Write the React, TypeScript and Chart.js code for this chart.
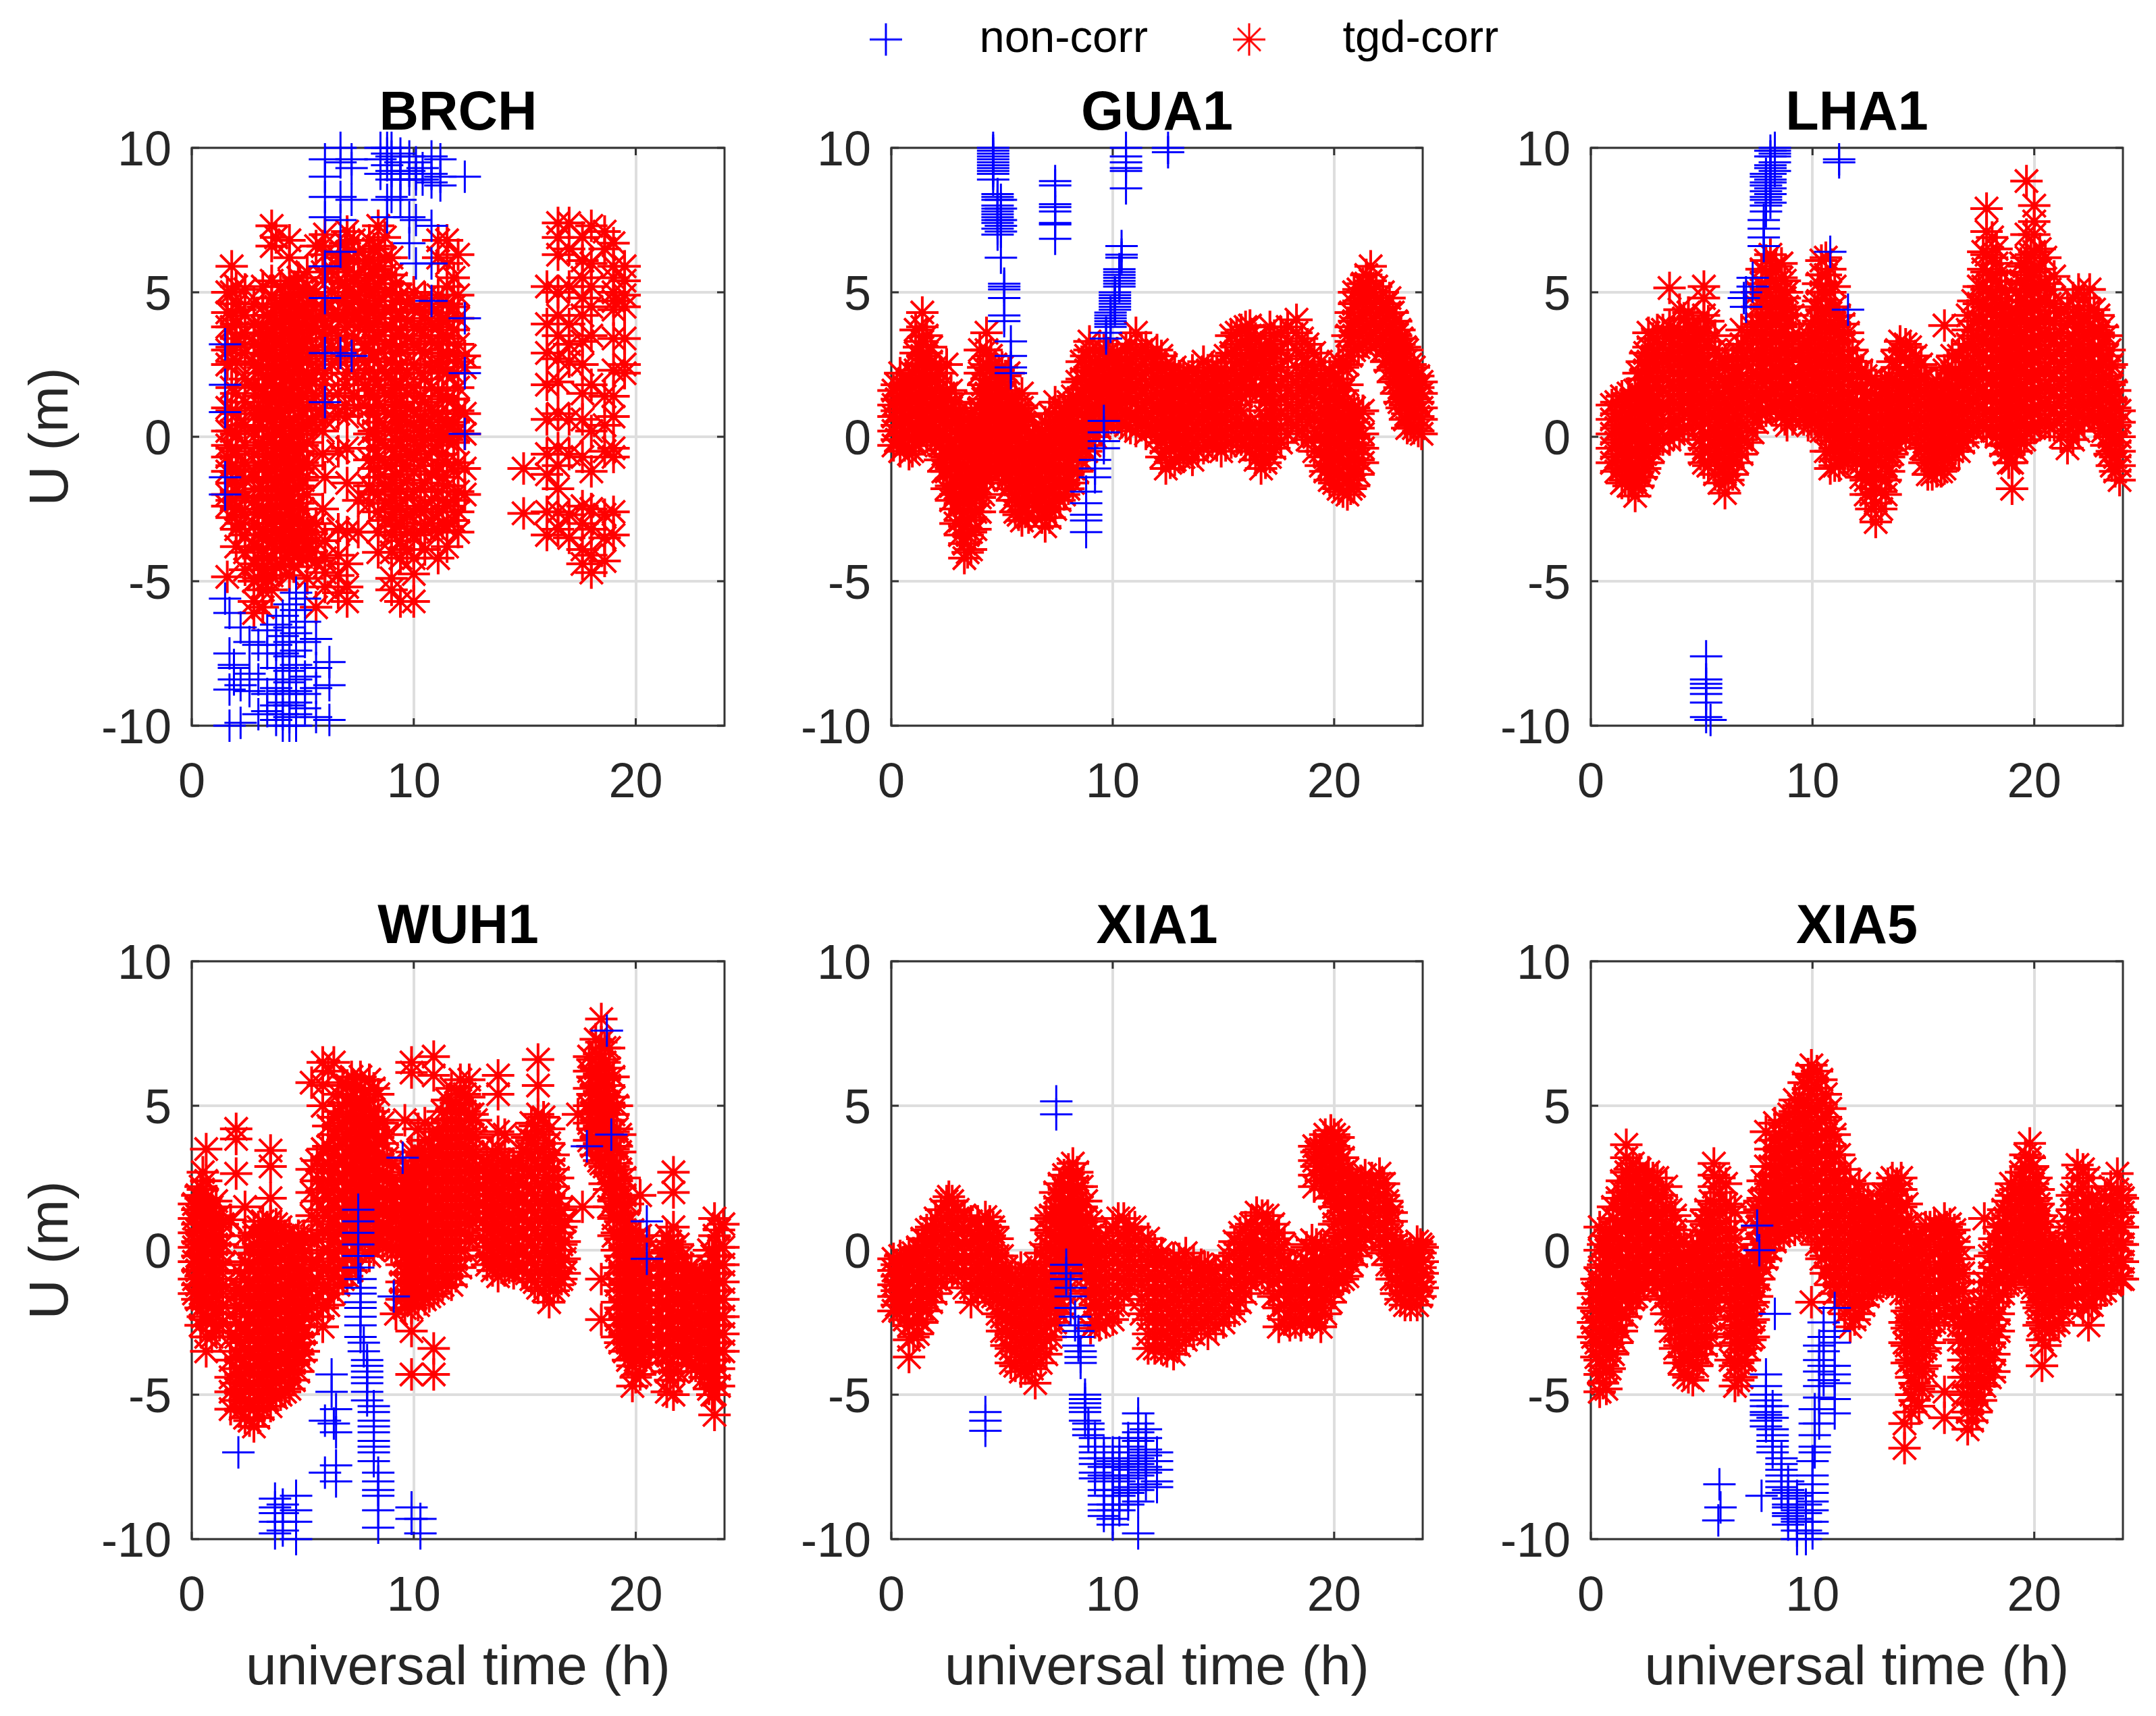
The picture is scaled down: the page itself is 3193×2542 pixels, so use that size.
import React, { useEffect, useRef } from "react";
import { Chart, registerables } from "chart.js";
import { drawPoint } from "chart.js/helpers";

Chart.register(...registerables);

type Row = number[];

const stations = ["BRCH", "GUA1", "LHA1", "WUH1", "XIA1", "XIA5"];
const seriesNames = ["non-corr", "tgd-corr"];
const xTickStep = 10;
const yTickStep = 5;

// Every row: hour, then the U values read at that hour.
const brchBlue: Row[] = [
[1.5,3.2,1.8,0.85,-1.4,-2,-5.6],[1.7,-6.1,-7.5,-8.75,-10],[1.9,-8,-8.4,-7.9],[2.2,-9.9,-8.6,-6.6],[2.6,-8.2,-8.8,-7.1],[3,-7.2,-8.4,-9.6],
[3.4,-6.7,-7.5,-8.9,-9.5],[3.8,-6.5,-7.2,-8,-8.7,-9.3,-9.8],[4.1,-6.2,-6.9,-7.5,-8,-8.4,-8.8,-9.2,-9.6,-10],[4.4,-5.8,-6.6,-7.1,-7.6,-8.1,-8.5,-8.9,-9.3,-9.7,-10],
[4.7,-5.4,-6,-6.8,-7.4,-7.9,-8.4,-8.8,-9.2,-9.6,-10],[5.1,-5.6,-6.4,-7.1,-8.3,-8.9,-9.4],[5.6,-7,-8,-8.7,-9.7],[6.2,-7.8,-8.6,-9.8],[6,9.6,9,8.3,7.6,5.9,4.8,2.9,1.2],[6.7,10,9.5,8.3,7.5,6.4,2.9],
[7.2,9.6,9.3,8.2,2.8],[8.5,10,9.6,9.1],[8.8,10,9.8,9.4,8.2,7.6],[9,10,9.7,9.2,8.9,8.3],[9.4,9.8,9.5,9.1,8.9,8.2],[9.8,9.7,9.2,8.9,7.6,6.7],[10.1,9.5,9.1,8.9,7.5,6],[10.4,9.3,8.9],
[10.8,9.7,9.1,8.8,7.3,6,4.7],[11.2,9.6,9,8.7],[12.3,9,4.1,2.2,0.1]
];
const brchRed: Row[] = [
[1.6,-4.85,-2.4,-2,-1.2,-0.7,-0.3,0.2,1,2.5,3,3.8,4.3,5],
[1.8,5.9,5,4.3,3.8,3.1,2.6,1.7,0.9,0.2,-0.4,-1,-1.6,-2.2,-2.8],
[2,5.2,4.6,3.9,3.4,2.6,1.5,0.8,0.1,-0.5,-1.2,-1.9,-2.5,-3.2,-3.8],
[2.4,5.1,4.2,3.6,2.9,2,1.2,0.4,-0.3,-0.9,-1.5,-2.1,-2.7,-3.4,-4,-4.6],
[2.8,4.6,3.9,3.2,2.5,1.8,1,0.2,-0.6,-1.4,-2.2,-3,-3.8,-4.4,-5,-5.7,-6.1],
[3.2,5.2,4.5,3.8,3.1,2.4,1.7,1,0.3,-0.4,-1.1,-1.8,-2.5,-3.2,-3.9,-4.6,-5.3,-5.9],
[3.6,7.3,6.6,5.4,4.8,4.2,3.6,3,2.4,1.8,1.2,0.6,0,-0.6,-1.2,-1.8,-2.4,-3,-3.6,-4.2,-4.8,-5.3],
[4,5.2,4.6,4,3.4,2.8,2.3,1.7,1.2,0.7,0.1,-0.4,-0.9,-1.4,-1.9,-2.4,-2.9,-3.4,-3.9,-4.4],
[4.4,6.8,6.2,5.4,4.7,4.1,3.6,3,2.5,2,1.5,1,0.5,0,-0.5,-1,-1.5,-2,-2.5,-3,-3.5,-4,-4.8],
[4.8,5.5,4.9,4.3,3.7,3.1,2.5,1.9,1.3,0.7,0.1,-0.5,-1.1,-1.7,-2.3,-2.9,-3.5,-4.1],
[5.2,5.7,5,4.2,3.4,2.6,1.8,1,0.4,-0.2,-1,-2,-3,-3.6,-4.2,-4.9],
[5.6,6.6,5,4.1,3,2.3,1.4,0.7,-3,-3.6,-4.3,-5.9],
[6,7,6.3,5.5,4.8,4,3.4,2.2,1.4,0.6,-1.4,-3.6,-4.2,-4.7,-5.2],
[6.6,6.2,5.4,4.8,4.2,3.5,2.7,1.5,0.8,-0.5,-3.2,-4.1,-4.8,-5.4],
[7,7.1,6.4,5.7,5,4.4,3.8,2.2,0.7,-0.4,-1.6,-3.3,-4.4,-5.2,-5.7],
[7.5,6.4,5.6,4.9,4.3,3.8,2,1,-2.2,-3.3],
[8,6.8,6.1,5.5,4.9,4.3,3.7,3,2.3,1.6,1,0.1,-0.8,-1.7,-2.3],
[8.4,7.3,6.6,5.9,5.3,4.7,4.1,3.5,2.6,1.8,1.1,0.5,-0.1,-0.7,-1.4,-2,-2.6,-3.3,-4],
[9,6.2,5.6,5,4.4,3.8,3.2,2.6,2,1.4,0.8,0.2,-0.4,-1,-1.6,-2.2,-2.8,-3.4,-4,-4.9,-5.3],
[9.4,4.9,4.3,3.7,3.1,2.5,1.8,1.2,0.7,0.2,-0.3,-0.8,-1.3,-1.8,-2.4,-3,-3.6,-4.2,-5.7],
[10,5,4.4,3.8,3.2,2.5,1.7,0.9,0.4,-0.1,-0.6,-1.2,-1.9,-2.6,-3.4,-4.2,-4.75,-5.7],
[10.5,4.8,4.1,3.5,2.9,2,1.2,0.5,-0.1,-0.8,-1.6,-2.5,-3.2,-3.9],
[11.1,6.8,6.2,4.9,4.3,3.8,3.2,2.6,1.6,0.8,0.2,-0.3,-1,-1.9,-2.6,-3.3,-4.2],
[11.5,6.8,6,5.2,4.6,4,3.4,2.8,2.2,1.3,0.4,-0.1,-0.9,-1.7,-2.4,-3.1,-3.8],
[12,6.3,4.9,4.1,3.2,2.6,1.7,0.9,0.2,-0.9,-1.9,-2.6,-3.3],
[12.3,2.8,2.4,0.8,0.1,-1.1,-2],
[14.95,-1.1,-2.65],
[16,5.2,3.9,2.9,1.8,0.6,-0.6,-1.3,-2.6,-3.4],
[16.5,7.4,6.9,6.3,5,4.2,3.5,2.7,1.9,0.8,-0.4,-1,-1.8,-2.6,-3.2],
[17,7.4,6.5,5.2,3.9,3.2,2.6,0.6,-0.6,-2.7,-3.5],
[17.6,6.9,6.1,5.5,4.8,4.2,3.3,2.5,1.5,0.6,-0.7,-2.4,-3,-3.9,-4.4],
[18,7.3,6,5.2,4.5,3.5,1.8,0.2,-1.2,-2.5,-3.2,-4.1,-4.7],
[18.6,7.1,6.5,1.4,0.4,-0.5,-2.7,-3.5,-4.3],
[19,6.7,5.9,5.5,5,4.7,4.4,3.4,2.3,1.4,0.7,-0.4,-0.7,-2.6,-3.4],
[19.5,5.9,5.4,4.9,4.5,3.4,2.5,2.2]
];
const brchRedCore: Row[] = [
[2.2,-3,-1.2,0.4,3.2,4.4],[3,3.6,2.9,2.2,1.4,0.6,-0.2,-1,-1.8,-2.6,-3.4,-4.2,-4.9],[3.4,4.2,3.5,2.8,2,1.4,0.7,0,-0.7,-1.4,-2.1,-2.8,-3.5,-4.2,-4.9],
[3.8,6.9,4.5,3.9,3.3,2.7,2.1,1.5,0.9,0.3,-0.3,-0.9,-1.5,-2.1,-2.7,-3.3,-3.9,-4.5],[4.2,4.9,4.3,3.7,3.1,2.5,2,1.5,0.9,0.4,-0.2,-0.7,-1.2,-1.7,-2.2,-2.7,-3.2,-3.7,-4.2],
[4.6,5.2,4.5,3.9,3.3,2.7,2.2,1.7,1.1,0.6,0.2,-0.3,-0.8,-1.3,-1.8,-2.3,-2.8,-3.3,-3.8,-4.5],[5,5.1,4.5,3.9,3.3,2.7,2.2,1.5,0.9,0.3,-0.3,-0.9,-1.5,-2.5,-3.3,-3.9],[5.4,4.6,3.8,2.9,2,1.2,0.5,-3.3,-4],
[5.9,6.6,5.7,4.4,3.6,2.8,1.8,1,0.2,-0.6,-2.5],[6.3,5.8,5,4.2,3.7,3.1,2.5],[6.9,6.7,6,5.3,4.7,4.1,3,1.8,1.1],[7.3,6.8,6.1,5.4,4.7,4.1,3.4,2.6,1.4],[7.8,6,5.2,4.6,4,3.2,2.6,1.8],[8.2,6.5,5.8,5.1,4.5,3.9,3.3,2.7,2,1.4,0.8,0.2,-0.4,-1.1,-1.9],
[8.7,6.9,6.2,5.6,5,4.4,3.8,3.2,2.2,1.5,0.9,0.3,-0.3,-0.9,-1.7,-2.3,-2.9],[9.2,5.3,4.7,4.1,3.5,2.9,2.3,1.7,1.1,0.5,-0.1,-0.7,-1.3,-1.9,-2.5,-3.1],
[9.7,4.6,4,3.4,2.2,1.5,1,0.5,0,-0.5,-1,-1.5,-2.1,-2.7,-3.3,-3.9],[10.3,4.4,3.7,3,2.2,1.4,0.7,0.2,-0.3,-1,-1.8,-2.5,-3.3],[10.8,4.5,3.9,3.3,2.4,1.7,0.9,0.4,0,-0.5,-1.3,-2.2,-3],
[11.3,4.6,4,3.5,2.9,2.3,1.4,0.6,0,-0.6,-1.4,-2.2,-3],[11.8,5.5,4.5,3.7,2.9,2.2,1.3,0.5,-0.2,-1.2,-2.2,-2.9]
];

const gua1Blue: Row[] = [
[4.6,10,9.9,9.8,9.7,9.6,9.5,9.4,9.3,9.2,9.1,8.9],[4.8,8.4,8.3,8.2,8,7.9,7.8,7.7,7.6,7.5,7.4,7.2,7],[4.95,8.2,7.9,7.5,7.3,7.1,6.2],[5.1,5.3,5.2,5.1,4.8,4.2,4],[5.4,3.3,2.8,2.4,2.2],
[7.4,8.85,8.7,8.05,7.95,7.8,7.4,7.35,6.85],[10.6,10,9.7,9.5,9.3,9.2,8.6],[12.5,10,9.85],
[10.4,6.6,6.3,6.2],[10.3,5.8,5.7,5.6,5.5,5.4,5.3,5.2],[10.1,5,4.9,4.8,4.7,4.6,4.5,4.4],[9.9,4.3,4.2,4.1,4,3.9,3.8],[9.7,3.6,3.4],
[8.8,-3.3,-2.9,-2.7,-2.3,-1.9],[9.2,-1.4,-1.1,-0.8],[9.6,-0.4,-0.15,0.15,0.55]
];
const gua1Red: Row[] = [
[0.1,-0.3,0.2,0.7,1.1,1.6],[0.4,-0.5,-0.1,0.4,0.9,1.4,2.2],[0.8,-0.6,0,0.5,1,1.5,2],[1.1,-0.3,0.2,0.8,1.3,1.8,2.3,2.9,3.7],
[1.4,0.2,0.7,1.2,1.7,2.2,2.8,3.3,3.8,4.3],[1.8,0.1,0.6,1.1,1.6,2.1,2.6,3.1],[2.2,-0.8,-0.3,0.2,0.7,1.2,1.7,2.2],[2.5,-1.8,-1.2,-0.7,-0.1,0.4,0.9,1.5,2.5],
[2.9,-3,-2.5,-2,-1.4,-0.9,-0.4,0.2,0.7,1.2],[3.3,-4.2,-3.7,-3.1,-2.6,-2,-1.5,-1,-0.4,0.1,0.6],[3.6,-3.9,-3.3,-2.8,-2.2,-1.7,-1.2,-0.6,-0.1,0.4,0.8],
[4,-2.6,-2.1,-1.6,-1.1,-0.5,0,0.5,1,1.5,2.2,3],[4.3,-1.5,-1,-0.5,0,0.5,1,1.5,2,2.5,3,3.6],[4.7,-0.8,-0.3,0.2,0.7,1.2,1.7,2.2,2.5],[5,-1.2,-0.7,-0.2,0.3,0.9,1.4,1.9,2.4],
[5.3,-1.8,-1.3,-0.7,-0.2,0.3,0.8,1.3,2.2],[5.6,-2.6,-2,-1.5,-0.9,-0.4,0.2,0.8,1.3],[5.9,-2.9,-2.4,-1.8,-1.3,-0.7,-0.2,0.4,1,1.5],[6.2,-2.8,-2.2,-1.7,-1.1,-0.6,0,0.8],
[6.6,-2.4,-1.9,-1.4,-0.9,-0.4,0],[6.95,-3.1,-2.6,-2,-1.5,-1,-0.5,0,0.5],[7.4,-2.5,-2,-1.5,-1,-0.5,0.1,0.6,1.2],[7.8,-2,-1.5,-1,-0.5,0,0.5,1],[8.2,-1.6,-1.1,-0.6,0,0.5,1,1.4],
[8.6,-0.8,-0.3,0.2,0.8,1.4,2,2.6],[8.95,-0.3,0.2,0.8,1.3,1.9,2.4,3,3.3],[9.4,0.3,0.8,1.3,1.8,2.3,3],[9.8,0.6,1.1,1.6,2.1,2.6,2.9],[10.2,0.6,1,1.5,2,2.5,2.9],
[10.6,0.4,0.9,1.4,1.9,2.4,3],[11.05,0.2,0.7,1.2,1.8,2.3,2.9,3.6],[11.5,0.1,0.6,1.2,1.7,2.2,2.7,3.1],[12,0,0.5,1,1.5,2,2.5,3],[12.4,-1.1,-0.5,0,0.5,1,1.5,2,2.5],
[12.8,-0.8,-0.2,0.3,0.9,1.4,1.9,2.4],[13.2,-0.7,-0.2,0.3,0.8,1.3,1.8,2.2],[13.6,-0.8,-0.3,0.2,0.7,1.2,1.7,2.3],[14.1,-0.4,0.1,0.6,1.1,1.6,2.1,2.6],[14.5,-0.1,0.4,0.9,1.4,1.9,2.4],
[14.9,-0.5,0,0.5,1,1.5,2,2.3],[15.35,-0.2,0.3,0.8,1.3,1.8,2.3,2.9,3.5],[15.8,-0.1,0.4,0.9,1.4,2,2.6,3.2,3.7],[16.2,-0.5,0,0.5,1.5,2,2.5,3,3.5,3.85],[16.7,-1.1,-0.6,-0.1,0.4,1.6,2.2,2.7,3.1],
[17.1,-0.7,-0.1,0.4,0.9,1.4,2,2.6,3.2,3.8],[17.6,-0.2,0.3,0.8,1.3,1.8,2.4,3,3.6],[18.3,0.4,0.9,1.4,1.9,2.4,3,3.6,4.05],[18.8,-0.1,0.5,1,1.5,2,2.5,3.2],[19.4,-1,-0.5,0,0.5,1,1.6,2.1,2.6],
[19.8,-1.5,-1,-0.5,0,0.5,1,1.5,2.2],[20.2,-1.8,-1.3,-0.8,-0.3,0.2,0.7,1.2,2,2.6],[20.6,-2,-1.5,-1,-0.5,0,0.5,1,1.8,2.5,3.5],[20.9,-1.7,-1.1,-0.6,0,0.5,1,3,3.5,4,4.6,5],[21.3,-0.9,-0.4,0.1,0.9,3.2,3.7,4.2,4.8,5.3],
[21.65,3.4,3.9,4.4,4.9,5.4,5.9],[22.2,3,3.5,4,4.5,5],[22.5,2.3,2.8,3.3,3.8,4.3,4.8],[22.8,1.5,2,2.5,3,3.5,4],[23.05,1,1.5,2,2.5,3,3.4],[23.3,0.3,0.8,1.3,1.8,2.3,3],[23.6,0.3,0.8,1.3,1.8,2.4],[23.95,0.1,0.6,1,1.5,1.9]
];
const gua1RedFill: Row[] = [
[0.25,-0.1,0.4,0.9,1.3,1.8],[0.6,-0.3,0.2,0.7,1.2,1.7],[0.95,-0.5,-0.1,0.3,0.8,1.2,1.7,2.2],[1.25,-0.1,0.5,1,1.5,2,2.5,3.1],[1.6,0,0.4,0.9,1.4,1.9,2.4,2.9,3.5],[2,-0.2,0.3,0.8,1.3,1.9,2.4],[2.35,-1.2,-0.6,-0.1,0.5,1,1.5],[2.7,-2.2,-1.7,-1.1,-0.6,-0.1,0.5,1,1.6],
[3.1,-3.4,-2.9,-2.3,-1.7,-1.2,-0.7,-0.1,0.4,0.9],[3.45,-4,-3.4,-2.9,-2.3,-1.8,-1.3,-0.7,-0.2,0.3],[3.8,-3.2,-2.6,-2,-1.5,-0.9,-0.3,0.2,0.6],[4.15,-2,-1.4,-0.8,-0.3,0.2,0.8,1.3,1.8,2.4],[4.5,-1.2,-0.7,-0.2,0.3,0.8,1.3,1.8,2.3,2.8],[4.85,-1,-0.5,0,0.5,1,1.5,2,2.3],
[5.15,-1.5,-1,-0.4,0.1,0.6,1.1,1.6,2.1],[5.45,-2.2,-1.6,-1.1,-0.5,0,0.5,1.1],[5.75,-2.7,-2.2,-1.6,-1.1,-0.5,0,0.6,1.1],[6.05,-2.6,-2,-1.5,-0.9,-0.4,0.2,0.7],[6.4,-2.1,-1.6,-1.2,-0.7,-0.2],[6.8,-2.8,-2.2,-1.7,-1.2,-0.7,-0.2,0.2],[7.15,-2.8,-2.3,-1.8,-1.2,-0.7,-0.2,0.3,0.8],[7.6,-2.2,-1.7,-1.2,-0.7,-0.2,0.3,0.8],
[8,-1.8,-1.3,-0.8,-0.2,0.3,0.8,1.2],[8.4,-1.2,-0.7,-0.2,0.3,0.8,1.3,1.9],[8.8,-0.5,0,0.5,1.1,1.7,2.3,2.8],[9.2,0,0.5,1.1,1.6,2.1,2.6],[9.6,0.5,1,1.5,2,2.5,3],[10,0.8,1.3,1.8,2.3,2.7],[10.4,0.5,1.2,1.7,2.2,2.7],[10.8,0.3,0.7,1.2,1.7,2.2,2.7,3.2],[11.3,0.4,0.9,1.5,2,2.5,3],[11.75,0.3,0.8,1.3,1.8,2.3,2.8],
[12.2,-0.7,-0.2,0.3,0.8,1.2,1.8,2.3,2.8],[12.6,-0.9,-0.4,0.1,0.6,1.1,1.6,2.1],[13,-0.7,-0.1,0.5,1,1.6,2.1],[13.4,-0.5,0,0.5,1,1.5,2],[13.85,-0.5,0,0.5,1,1.5,2],[14.3,-0.2,0.3,0.8,1.3,1.8,2.3],[14.7,-0.3,0.2,0.7,1.2,1.7,2.2],[15.1,-0.3,0.2,0.7,1.2,1.7,2.2,2.8],
[15.6,0,0.6,1.1,1.6,2.1,2.6,3.1,3.6],[16,-0.3,0.2,1.7,2.2,2.8,3.3,3.8],[16.45,-0.8,-0.3,0.2,1.7,2.3,2.8,3.4],[16.9,-0.9,-0.4,0.2,0.7,1.2,1.8,2.4,3],[17.3,-0.4,0.1,0.6,1.1,1.7,2.3,2.9,3.5],[17.9,0.1,0.6,1.1,1.6,2.1,2.7,3.3,3.8],[18.55,0.2,0.7,1.2,1.7,2.2,2.8,3.4],[19.1,-0.5,0,0.6,1.2,1.8,2.3,2.9],
[19.6,-1.2,-0.7,-0.2,0.3,0.8,1.3,1.9],[20,-1.6,-1.1,-0.6,-0.1,0.4,0.9,1.4,2],[20.4,-1.9,-1.4,-0.9,-0.4,0.1,0.6,1.1,1.6,2.4],[20.75,-1.8,-1.3,-0.8,-0.2,0.3,0.8,2.8,3.3,3.8,4.3],[21.1,-1.3,-0.8,-0.3,0.3,0.8,3.1,3.6,4.1,4.7,5.1],[21.45,3.3,3.8,4.3,4.8,5.3,5.6],[21.9,3.2,3.7,4.2,4.7,5.2],[22.35,2.6,3.1,3.6,4.1,4.6],
[22.65,1.9,2.4,2.9,3.4,3.9,4.3],[22.95,1.2,1.7,2.2,2.7,3.2,3.7],[23.2,0.6,1.1,1.6,2.1,2.6,3.1],[23.45,0.4,0.9,1.4,1.9,2.5],[23.8,0.2,0.7,1.2,1.7,2.1]
];

const lha1Blue: Row[] = [
[8.3,10,9.9,9.8,9.7,9.5,9.2],[8.1,9.9,9.7,9.4,9.3,9.1,8.9,8.8,8.6,8.4,8.1],[7.9,9.1,9,8.8,8.7,8.5,8.3,8.2,8,7.8],[7.8,7.5,7.2,6.9,6.6],[7.3,5.5,5.2],[7,5,4.5],[6.9,4.8],
[11.2,9.6,9.5],[10.8,6.4],[11.6,4.4],[5.2,-7.6,-8.4,-8.55,-8.7,-8.9,-9.2,-9.7],[5.4,-9.8]
];
const lha1Red: Row[] = [
[0.95,-0.9,-0.4,0.1,0.6,1.1],[1.4,-1.6,-1.1,-0.6,-0.1,0.4,0.9,1.4],[1.7,-1.7,-1.2,-0.7,-0.2,0.3,0.8,1.5],[2,-2.05,-1.5,-1,-0.5,0,0.5,1,1.6],[2.3,-1.4,-0.9,-0.4,0.2,0.8,1.4,2,2.6],
[2.6,-0.9,-0.4,0.2,0.8,1.4,2,2.6,3.1,3.6],[3,-0.2,0.3,0.9,1.4,1.9,2.4,3,3.7],[3.55,-0.1,0.4,0.9,1.4,1.9,2.4,2.9,3.4,3.8,5.15],[4,0.1,0.6,1.1,1.6,2.1,2.6,3.1,3.6,4.4],[4.4,0.3,0.8,1.3,1.8,2.3,2.8,3.3,3.8,4.3],
[4.8,0.8,1.3,1.8,2.3,2.8,3.5],[5.1,-0.9,-0.4,0.1,0.6,1.1,1.6,2.1,2.6,3.1,3.6,4.2,4.8,5.2],[5.6,-1.3,-0.8,-0.3,0.2,0.7,1.2,1.7,2.3,3,3.5],[6.05,-1.95,-1.3,-0.8,-0.3,0.3,0.8,1.3,1.9,2.6],[6.4,-1.3,-0.7,-0.2,0.4,0.9,1.5,2.1,2.7],
[6.8,-0.6,-0.1,0.5,1,1.6,2.1,2.7,3.2,3.7],[7.3,0.15,0.7,1.2,1.7,2.2,2.8,3.3,3.8],[7.7,0.8,1.3,1.9,2.5,3,3.6,4.2,4.8,5.3,5.8],[8.1,1,1.5,2,2.6,3.2,3.8,4.3,4.9,5.5,6.3],[8.6,0.8,1.4,2,2.6,3.2,3.8,4.4,5,5.5,6],
[8.85,0.4,0.9,1.5,2.1,2.7,3.3,3.9,4.5,5],[9.4,0.8,1.3,1.8,2.3,2.8,3.5],[9.8,0.4,0.9,1.4,1.9,2.4,3.2],[10.1,0.6,1.2,1.8,2.4,3,3.6,4.5],[10.4,0.2,0.8,1.4,2,2.6,3.2,3.8,4.4,5,5.6,6.1],
[10.8,-1.1,-0.5,0.1,0.7,1.3,1.9,2.5,3.1,3.7,4.3,5,5.8],[11.2,-1,-0.5,0,0.6,1.2,1.8,2.4,3,3.6,4.2],[11.6,-0.6,-0.1,0.4,0.9,1.5,2.1,2.7,3.6],[12,-0.9,-0.4,0.1,0.6,1.1,1.6,2.1,2.6],[12.4,-2,-1.5,-1,-0.5,0,0.5,1,1.5,2.1],
[12.85,-2.95,-2.3,-1.8,-1.3,-0.8,-0.3,0.2,0.7,1.2,1.8],[13.3,-2,-1.5,-1,-0.5,0,0.5,1,1.7],[13.6,-0.6,-0.1,0.4,0.9,1.4,2,2.6],[13.95,0.1,0.6,1.1,1.6,2.2,2.7,3.3],[14.4,0.1,0.6,1.1,1.6,2.1,2.6,3.1],
[14.9,-0.4,0.1,0.6,1.1,1.6,2,2.5],[15.2,-1.3,-0.8,-0.3,0.2,0.7,1.5],[15.6,-1.2,-0.7,-0.2,0.3,0.8,1.3,1.8],[15.95,-1.1,-0.6,-0.1,0.4,0.9,1.4,2.3,3.85],[16.3,-0.5,0,0.5,1,1.5,2.2,2.8],
[16.6,-0.5,0,0.5,1,1.5,2,2.8],[17,0,0.5,1,1.5,2,2.6,3.2,3.7,4.2],[17.5,0.5,1,1.6,2.2,2.8,3.4,4,4.6,5.2],[17.85,0.3,0.9,1.5,2.1,2.7,3.3,3.9,4.5,5.1,5.7,6.3,7.1,7.9],[18.3,0,0.6,1.2,1.8,2.4,3,3.6,4.2,4.8,5.4,6,6.5],
[18.7,-0.6,0,0.6,1.2,1.8,2.4,3,3.6,4.2,5],[19,-1.8,-0.9,-0.3,0.3,0.9,1.5,2.1,2.7,3.3,4],[19.4,-0.2,0.4,1,1.6,2.2,2.8,3.4,4,4.7,5.4,6],[19.65,0.2,0.8,1.4,2,2.6,3.2,3.8,4.4,5,5.6,6.2,7,8.85],[20,0.3,0.9,1.5,2.1,2.7,3.3,3.9,4.5,5.1,5.7,6.4,7,7.45,8],
[20.5,0.5,1.1,1.7,2.3,2.9,3.5,4.1,4.7,5.3,6.2],[20.9,0.4,1,1.6,2.2,2.8,3.4,4,4.6,5.55],[21.5,-0.4,0.2,0.8,1.4,2,2.6,3.2,3.9,4.5],[22,0.2,0.8,1.4,2,2.6,3.2,3.8,4.4,5.1],[22.5,0.8,1.4,2,2.6,3.2,3.8,4.4,5.1],
[22.9,0.6,1.2,1.8,2.4,3,3.6,4.2],[23.25,-0.3,0.3,0.9,1.5,2.1,2.8,3.5],[23.5,-1,-0.5,0.1,0.7,1.3,1.9,2.5],[23.85,-1.5,-1,-0.5,0,0.5,0.9]
];
const lha1RedFill: Row[] = [
[1.15,-1.2,-0.7,-0.2,0.3,0.8,1.2],[1.55,-1.5,-1,-0.4,0.1,0.6,1.1],[1.85,-1.6,-1.1,-0.6,-0.1,0.4,0.9,1.3],[2.15,-1.7,-1.2,-0.7,-0.2,0.3,0.9,1.5,2.2],[2.45,-1.1,-0.6,0,0.6,1.1,1.7,2.3,2.9],[2.8,-0.5,0.1,0.6,1.2,1.7,2.3,2.8,3.4],[3.25,-0.1,0.5,1,1.6,2.1,2.7,3.2,3.7],
[3.75,0.1,0.6,1.2,1.7,2.2,2.7,3.2,3.7],[4.2,0.3,0.9,1.4,1.9,2.5,3,3.5,4.1],[4.6,0.6,1.1,1.6,2.1,2.6,3.1,3.7],[4.95,-0.6,-0.1,0.4,0.9,1.4,1.9,2.4,2.9,3.4],[5.3,-1,-0.5,0,0.5,1,1.5,2,2.5,3.3,4],[5.8,-1.6,-1,-0.5,0,0.5,1,1.5,2.1,2.8],[6.2,-1.5,-1,-0.5,0.1,0.6,1.1,1.7,2.4],[6.6,-0.9,-0.4,0.2,0.7,1.3,1.9,2.4,3],
[7.05,-0.2,0.3,0.9,1.4,1.9,2.5,3,3.5],[7.5,0.5,1,1.5,2.1,2.7,3.3,3.9,4.5,5],[7.9,0.9,1.5,2.1,2.7,3.3,3.9,4.5,5.1,5.7,6.1],[8.35,1,1.6,2.3,2.9,3.5,4.1,4.7,5.3,5.9],[8.75,0.6,1.2,1.8,2.4,3,3.6,4.2,4.8,5.4],[9.1,0.6,1.1,1.7,2.3,2.9,3.5,4.2],[9.6,0.6,1.1,1.6,2.1,2.6,3.1],
[9.95,0.5,1.1,1.7,2.2,2.8,3.4,3.9],[10.25,0.4,1,1.6,2.2,2.8,3.4,4,4.7,5.3],[10.6,-0.5,0.2,0.8,1.4,2,2.6,3.2,3.8,4.4,5,5.6,6.2],[11,-1,-0.4,0.2,0.8,1.4,2,2.6,3.2,3.8,4.5,5.2],[11.4,-0.8,-0.3,0.3,0.9,1.5,2.1,2.7,3.3,3.9],[11.8,-0.7,-0.2,0.3,0.8,1.3,1.8,2.4,3],[12.2,-1.4,-0.9,-0.4,0.1,0.6,1.1,1.6,2.3],
[12.65,-2.5,-2,-1.5,-1,-0.5,0,0.5,1,1.5,2],[13.1,-2.5,-1.9,-1.4,-0.9,-0.4,0.1,0.6,1.2,1.8],[13.45,-1.2,-0.7,-0.2,0.3,0.8,1.3,1.9],[13.8,-0.2,0.3,0.8,1.3,1.8,2.4,3],[14.2,0.2,0.7,1.2,1.7,2.2,2.7,3.2],[14.65,-0.1,0.4,0.9,1.4,1.9,2.4,2.8],[15.05,-0.9,-0.4,0.1,0.6,1.1,1.6,2],[15.4,-1.3,-0.8,-0.3,0.2,0.7,1.2],
[15.8,-1.2,-0.7,-0.2,0.3,0.8,1.3,1.8],[16.1,-0.8,-0.3,0.2,0.7,1.2,1.8,2.4],[16.45,-0.4,0.1,0.6,1.1,1.7,2.3],[16.8,-0.2,0.3,0.8,1.3,1.8,2.4,3],[17.25,0.2,0.8,1.3,1.8,2.4,3,3.5,4,4.7],[17.7,0.4,1,1.6,2.2,2.8,3.4,4,4.6,5.2,5.8,6.4],[18.1,0.2,0.8,1.4,2,2.6,3.2,3.8,4.4,5,5.6,6.2,6.9],
[18.5,-0.3,0.3,0.9,1.5,2.1,2.7,3.3,3.9,4.5,5.1,5.7],[18.85,-0.9,-0.3,0.3,0.9,1.5,2.1,2.7,3.3,3.9,4.5],[19.2,-0.5,0.1,0.7,1.3,1.9,2.5,3.1,3.7,4.3,5],[19.55,-0.1,0.5,1.1,1.7,2.3,2.9,3.5,4.1,4.7,5.3,5.9],[19.85,0.3,0.9,1.5,2.1,2.7,3.3,3.9,4.5,5.1,5.7,6.3],[20.25,0.4,1,1.6,2.2,2.8,3.4,4,4.6,5.2,5.8,6.5],
[20.7,0.4,1,1.6,2.2,2.8,3.4,4,4.6,5.1],[21.2,0,0.6,1.2,1.8,2.4,3,3.6,4.3],[21.75,-0.1,0.5,1.1,1.7,2.3,2.9,3.5,4.1,4.8],[22.25,0.5,1.1,1.7,2.3,2.9,3.5,4.1,4.8],[22.7,0.7,1.3,1.9,2.5,3.1,3.7,4.4],[23.1,0.2,0.8,1.4,2,2.6,3.2,3.8],[23.4,-0.6,0,0.6,1.2,1.8,2.4,3],[23.65,-1.2,-0.7,-0.2,0.4,1,1.6]
];

const wuh1Blue: Row[] = [
[7.5,1.4,1,0.6,0.2,-0.2,-0.6],[7.6,-1,-1.3,-1.5,-1.8,-2,-2.3,-2.6,-3],[7.75,-3.2,-3.5],[7.9,-3.8,-4,-4.2,-4.4,-4.6,-4.9,-5.2],[8.2,-5.4,-5.6,-5.9,-6.1,-6.3,-6.6,-6.8,-7,-7.3],[8.4,-7.7,-8,-8.3,-8.5,-9,-9.6],[6.3,-4.3,-4.9],[6.4,-6],[6,-5.9,-7.7],[6.5,-5.5,-6.3,-7.45,-8],[2.1,-7],
[3.75,-8.6,-8.9,-9.1,-9.4,-9.8],[4.1,-8.8,-9.1,-9.4,-9.7],[4.7,-8.5,-9,-9.4,-10],[9.9,-8.9,-9.3],[10.3,-9.3,-9.8],[17.8,3.6],[18.7,7.6],[18.9,4],[20.5,1,-0.3],[9.5,3.2],[9.1,-1.6]
];
const wuh1Red: Row[] = [
[0.1,-1.5,-1,-0.4,0.1,0.6,1.1,1.6],[0.4,-2.6,-2,-1.5,-0.9,-0.4,0.2,0.7,1.3,1.8,2.2],[0.65,-3.5,-3,-2.4,-1.8,-1.2,-0.6,0,0.6,1.2,1.8,2.4,3.5],[1.1,-2.8,-2.2,-1.6,-1,-0.4,0.2,0.8,1.7],[1.4,-2.5,-1.9,-1.2,-0.5,0.2,0.9],
[1.75,-5.5,-4.9,-4.4,-3.8,-3,1.05],[2,-5.2,-4.6,-4.1,-3.5,-3,-2.5,-2,-1.5,2.65,3.85,4.2],[2.4,-5.8,-5.2,-4.6,-4,-3.4,-2.8,-2.2,-1.6,-1,-0.4,0.5,1.5],[2.8,-6.1,-5.5,-4.9,-4.3,-3.7,-3.1,-2.5,-1.9,-1.3,-0.7,-0.1,0.6],
[3.2,-5.5,-4.9,-4.3,-3.7,-3.1,-2.5,-1.9,-1.3,-0.7,-0.1,0.5,1],[3.55,-5.4,-4.8,-4.2,-3.6,-3,-2.4,-1.8,-1.2,-0.6,0,0.6,1,1.8,2.9,3.45],[4,-5,-4.4,-3.8,-3.2,-2.6,-2,-1.4,-0.8,-0.2,0.4,0.8],[4.4,-4.8,-4.2,-3.6,-3,-2.4,-1.8,-1.2,-0.6,0,0.6],[4.8,-4.2,-3.6,-3,-2.4,-1.8,-1.2,-0.6,0,0.5],[5.05,-3.5,-2.9,-2.3,-1.7,-0.9,-0.1,0.5],
[5.4,-1.9,-1.3,-0.5,0.4,1.2,2,2.8,5.8],[5.9,-2.65,-2,-1.3,-0.7,0,0.7,1.4,2.1,2.8,3.5,5,5.7,6.5],[6.4,-1.5,-0.9,-0.3,0.3,0.9,1.5,2.1,2.7,3.3,4,4.6,6.5],[6.8,-1,-0.4,0.2,0.8,1.4,2,2.6,3.2,3.8,4.4,5,5.8],[7.2,-0.7,-0.1,0.5,1.1,1.7,2.3,2.9,3.5,4.1,4.7,5.3,6],
[7.6,1,1.6,2.2,2.8,3.4,4,4.6,5.2,6],[8,-0.2,0.4,1,1.6,2.2,2.8,3.4,4,4.6,5.2,5.9],[8.4,0.3,0.9,1.5,2.1,2.7,3.3,3.9,4.5,5.4],[8.8,0.2,0.8,1.4,2,2.6,3.2,4],[9.2,-2.2,0,0.5,1,1.5,2],
[9.6,-2,-1.4,-0.8,-0.2,0.4,1,1.6,2.2,2.7,4.5],[9.9,-4.3,-2.8,-2,-1.4,-0.8,-0.2,0.4,1,1.6,2.2,2.8,3.4,6.15,6.5],[10.2,-1.9,-1.3,-0.7,-0.1,0.5,1.1,1.7,2.3,2.9,3.4,4.2],[10.5,-1.7,-1.1,-0.5,0.1,0.7,1.3,1.9,2.5,3.1,3.8,4.4],[10.9,-4.3,-3.4,-1.5,-0.9,-0.3,0.3,0.9,1.5,2.1,2.7,3.5,6.05,6.7],
[11.3,-1.2,-0.6,0,0.6,1.2,1.8,2.4,3,3.6,4.2,4.8],[11.7,-1.2,-0.6,0,0.6,1.2,1.8,2.4,3,3.6,4.2,4.9,5.6],[12.1,-0.6,0,0.6,1.2,1.8,2.4,3,3.6,4.2,4.8,5.4,5.9],[12.5,0.5,1.1,1.7,2.3,2.9,3.5,4.1,4.7,5.3,5.9],[12.8,1.5,2.1,2.7,3.3,3.9,4.5],
[13.3,-0.5,0.1,0.7,1.3,1.9,2.5,3],[13.8,-0.9,-0.3,0.3,0.9,1.5,2.1,2.7,3.5,4.1,5.4,6.05],[14.1,-0.7,-0.1,0.5,1.1,1.7,2.3,2.9,4],[14.5,-0.8,-0.2,0.4,1,1.6,2.2,3],[14.9,-0.7,-0.1,0.5,1.1,1.7,2.3,2.9,3.4],[15.3,-1,-0.4,0.2,0.8,1.4,2,2.6,3.2,3.8,4.4],
[15.6,-1.3,-0.7,-0.1,0.5,1.1,1.7,2.3,2.9,3.5,4.1,4.7,5.7,6.6],[16.1,-1.8,-1.1,-0.5,0.1,0.7,1.3,1.9,2.5,3.1,3.7,4.2],[16.5,-1.2,-0.6,0,0.6,1.2,1.8,2.5],[16.8,-0.8,-0.3,0.3,1],[17.6,1.5],[17.4,4.7],
[17.9,3.8,4.4,5,5.6,6.2,6.7],[18.2,3.3,3.9,4.5,5.1,5.7,6.3,7.3],[18.45,-2.4,-1,3,3.6,4.2,4.8,5.4,6,6.6,7.2,8],[18.8,1.5,2.1,2.7,3.3,3.9,4.5,5.1,5.7,6.3,7],[19.15,-3,-2.4,-1.8,-1.2,-0.6,0,0.6,1.2,1.8,2.4,3,3.6,4.2,5],
[19.5,-3.5,-2.9,-2.3,-1.7,-1.1,-0.5,0.1,0.7,1.3,1.9,2.5],[19.85,-4.7,-4,-3.4,-2.8,-2.2,-1.6,-1,-0.4,0.2,0.7],[20.2,-4.3,-3.7,-3.1,-2.5,-1.9,-1.3,-0.7,-0.1,0.5,1.9],[20.6,-3.5,-2.9,-2.3,-1.7,-1.1,0.3],
[21,-3.5,-2.9,-2.3,-1.7,-1.1,-0.5],[21.4,-4.9,-4.2,-3.6,-3,-2.4,-1.8,-1.2,-0.6,0,0.5],[21.7,-5,-4.2,-3.5,-2.9,-2.3,-1.7,-1.1,-0.5,0.1,0.8,2,2.7],[22.1,-3.5,-2.9,-2.3,-1.7,-1.1,-0.5,-0.2],[22.5,-4,-3.4,-2.8,-2.2,-1.6,-1,-0.6],
[22.9,-4.2,-3.6,-3,-2.4,-1.8,-1.2,-1],[23.3,-4.8,-4.2,-3.6,-3,-2.4,-1.8,-1.2,-0.6,0],[23.55,-5.7,-5,-4.4,-3.8,-3.2,-2.6,-2,-1.4,-0.8,-0.2,0.5,1.1],[23.95,-3.5,-2.9,-2.3,-1.7,-1.1,-0.5,0.1,0.9]
];
const wuh1RedFill: Row[] = [
[0.25,-1.7,-1.2,-0.7,-0.2,0.3,0.9,1.4,1.9],[0.5,-2.3,-1.7,-1.2,-0.6,-0.1,0.5,1,1.5,2.1,2.7],[0.9,-3,-2.5,-1.9,-1.3,-0.7,-0.1,0.5,1.1,1.5],[1.25,-2.6,-2,-1.3,-0.7,-0.1,0.5,1.2],[2.2,-5.5,-4.9,-4.3,-3.7,-3.2,-2.6,-2,-1.4,-0.8],[2.6,-5.9,-5.3,-4.7,-4.1,-3.5,-2.9,-2.3,-1.7,-1.1,-0.5,0.1],
[3,-5.8,-5.2,-4.6,-4,-3.4,-2.8,-2.2,-1.6,-1,-0.4,0.2,0.8],[3.4,-5.2,-4.6,-4,-3.4,-2.8,-2.2,-1.6,-1,-0.4,0.2,0.8],[3.8,-5.1,-4.5,-3.9,-3.3,-2.7,-2.1,-1.5,-0.9,-0.3,0.3,0.9],[4.2,-4.9,-4.3,-3.7,-3.1,-2.5,-1.9,-1.3,-0.7,-0.1,0.5],[4.6,-4.5,-3.9,-3.3,-2.7,-2.1,-1.5,-0.9,-0.3,0.3],[4.95,-3.8,-3.2,-2.6,-2,-1.4,-0.6,0.2],
[5.65,-2.3,-1.7,-1,-0.4,0.4,1,1.7,2.4,3.1],[6.15,-1.9,-1.2,-0.6,0,0.6,1.2,1.8,2.4,3,3.6,4.3,6.2],[6.6,-1.2,-0.6,0,0.6,1.2,1.8,2.4,3,3.6,4.2,4.8,5.4],[7,-0.9,-0.3,0.3,0.9,1.5,2.1,2.7,3.3,3.9,4.5,5.1,5.7],[7.4,-0.4,0.2,0.8,1.4,2,2.6,3.2,3.8,4.4,5,5.6],
[7.8,0.2,0.7,1.3,1.9,2.5,3.1,3.7,4.3,4.9,5.5],[8.2,0,0.6,1.2,1.8,2.4,3,3.6,4.2,4.8,5.6],[8.6,0.2,0.7,1.3,1.9,2.5,3.1,3.7,4.4],[9,0.1,0.6,1.2,1.8,2.4,3],[9.45,-1.7,-1.1,-0.5,0.2,0.8,1.4,1.9],[9.75,-1.7,-1.1,-0.5,0.1,0.7,1.3,1.9,2.5],
[10.05,-1.7,-1.1,-0.5,0.1,0.7,1.3,1.9,2.5,3.1],[10.35,-1.5,-0.9,-0.3,0.3,0.9,1.5,2.1,2.7,3.3],[10.7,-1.6,-1,-0.4,0.2,0.8,1.4,2,2.6,3.2,3.8],[11.1,-1.3,-0.7,-0.1,0.5,1.1,1.7,2.3,2.9,3.5,4.1],[11.5,-0.9,-0.3,0.3,0.9,1.5,2.1,2.7,3.3,3.9,4.5,5.2],[11.9,-0.9,-0.3,0.3,0.9,1.5,2.1,2.7,3.3,3.9,4.5,5.1],
[12.3,0,0.6,1.2,1.8,2.4,3,3.6,4.2,4.8,5.4],[12.65,1,1.6,2.2,2.8,3.4,4,4.7],[13.15,-0.2,0.4,1,1.6,2.2,2.8],[13.55,-0.7,-0.1,0.5,1.1,1.7,2.3,2.9,3.4],[13.95,-0.6,0,0.6,1.2,1.8,2.4,3.1],[14.3,-0.6,0,0.6,1.2,1.8,2.4,3],[14.7,-0.5,0.1,0.7,1.3,1.9,2.5],[15.1,-0.8,-0.2,0.4,1,1.6,2.2,2.8,3.4,3.9],
[15.45,-1.1,-0.5,0.1,0.7,1.3,1.9,2.5,3.1,3.7,4.3],[15.85,-1.4,-0.8,-0.2,0.4,1,1.6,2.2,2.8,3.4,4,4.6],[16.3,-1.4,-0.8,-0.2,0.4,1,1.6,2.2,2.8,3.3],[16.65,-1,-0.4,0.2,0.8,1.4],[18.05,3.6,4.2,4.8,5.4,6,6.6],[18.35,3.1,3.7,4.3,4.9,5.5,6.1,6.8],[18.6,2.3,2.9,3.5,4.1,4.7,5.3,5.9,6.5,7],
[19,0.5,1.1,1.7,2.3,2.9,3.5,4.1,4.7,5.3,6],[19.3,-3.2,-2.6,-2,-1.4,-0.8,-0.2,0.4,1,1.6,2.2,2.8,3.4,4],[19.65,-3.8,-3.2,-2.6,-2,-1.4,-0.8,-0.2,0.4,1,1.6],[20,-4.4,-3.8,-3.2,-2.6,-2,-1.4,-0.8,-0.2,0.4],[20.4,-3.9,-3.3,-2.7,-2.1,-1.5,-0.9,-0.3],
[21.2,-3.6,-3,-2.4,-1.8,-1.2,-0.6,-0.1],[21.55,-4.5,-3.9,-3.3,-2.7,-2.1,-1.5,-0.9,-0.3,0.3],[21.9,-4.2,-3.6,-3,-2.4,-1.8,-1.2,-0.6,0.2],[22.3,-3.7,-3.1,-2.5,-1.9,-1.3,-0.7],[22.7,-4,-3.4,-2.8,-2.2,-1.6,-1.1],[23.1,-4.4,-3.8,-3.2,-2.6,-2,-1.4,-0.9],[23.45,-5,-4.4,-3.8,-3.2,-2.6,-2,-1.4,-0.8,-0.2],[23.75,-4.7,-4.1,-3.5,-2.9,-2.3,-1.7,-1.1,-0.5,0.1,0.7]
];

const xia1Blue: Row[] = [
[7.45,5.15,4.7],[4.25,-5.6,-5.9,-6.25],[7.9,-0.5,-0.8,-1],[8.1,-1.3,-1.6,-2],[8.3,-2.3,-2.6],[8.45,-2.8,-3,-3.3],[8.55,-3.5,-3.7,-3.9],[8.75,-5,-5.15,-5.3,-5.45,-5.6,-5.9],[8.9,-6,-6.2,-6.4],
[9.2,-6.5,-6.8,-7,-7.2,-7.4,-7.7,-7.9],[9.6,-7,-7.2,-7.5,-7.8,-8,-8.3,-8.5,-8.8,-9,-9.2],[10,-7,-7.3,-7.5,-7.8,-8,-8.3,-8.5,-8.8,-9,-9.3,-9.5],[10.3,-7,-7.3,-7.5,-7.8,-8,-8.3,-8.5,-8.8,-9],[10.7,-6.5,-6.8,-7,-7.2,-7.4,-7.6,-7.9,-8.2,-8.4,-8.8],[11.15,-5.65,-6,-6.3,-6.6,-7,-7.2,-7.4,-7.8,-8.3,-8.7,-9.8],[11.5,-6.2,-6.5,-6.9,-7.1,-7.3,-7.5,-7.7,-8.1],[12,-7,-7.3,-7.6,-8,-8.2]
];
const xia1Red: Row[] = [
[0.1,-2.1,-1.6,-1.2,-0.7,-0.3],[0.4,-2.1,-1.6,-1.1,-0.7,-0.2],[0.8,-3.7,-3.1,-2.6,-2.1,-1.6,-1.1,-0.7,-0.2],[1.2,-2.9,-2.4,-1.9,-1.4,-0.9,-0.4,0.1],[1.6,-2.1,-1.6,-1.1,-0.6,-0.1,0.3,0.7],[2,-1.5,-1,-0.5,0,0.5,1.1],
[2.5,-0.8,-0.3,0.2,0.7,1.2,1.7],[2.6,1.85],[3,-0.8,-0.3,0.2,0.7,1.1,1.4],[3.6,-1.8,-1.3,-0.8,-0.3,0.2,0.6,1],[4.25,-1.4,-0.9,-0.4,0.1,0.6,1.15],[4.6,-1.6,-1.1,-0.6,-0.1,0.4,0.8],[5,-2.8,-2.3,-1.8,-1.3,-0.8,-0.2],[5.4,-3.9,-3.4,-2.9,-2.4,-1.9,-1.4,-0.9],
[5.85,-4.2,-3.7,-3.2,-2.7,-2.2,-1.7,-1.1,-0.6],[6.2,-4,-3.5,-3,-2.5,-2,-1.4,-0.8],[6.5,-4.6,-3.7,-3.2,-2.7,-2.2,-1.7,-1.1,-0.5],[7,-3.6,-3.1,-2.6,-2,-1.5,-1,-0.4,0.2,0.7,1.1],[7.4,-2.5,-2,-1.5,-1,-0.5,0,0.5,1,1.5,2],[7.8,-2,-1.5,-1,-0.5,0,0.5,1,1.5,2.1,2.6],
[8.2,-0.5,0,0.5,1,1.5,2,2.5,3],[8.6,-0.5,0,0.5,1,1.5,2.2],[9,-2.7,-2,-1.5,-1,-0.5,0,0.5,1],[9.4,-2.6,-2,-1.5,-1,-0.5,-0.1,0.3],[10,-2.4,-1.9,-1.4,-0.9,-0.4,0.1,0.8],[10.5,-1.5,-1,-0.5,0,0.5,1.1],[11,-1,-0.5,0,0.4,0.8],
[11.6,-3.4,-2.9,-2.4,-1.9,-1.4,-0.9,-0.4,0.4],[12.2,-3.4,-2.9,-2.4,-1.9,-1.4,-0.9,-0.4,-0.1],[12.75,-3.6,-3.1,-2.6,-2.1,-1.6,-1.1,-0.6,-0.3],[13.3,-3.1,-2.6,-2.1,-1.6,-1.1,-0.6,-0.1],[14,-2.7,-2.2,-1.7,-1.2,-0.8,-0.5],[14.3,-2.9,-2.4,-1.9,-1.4,-1,-0.6],[15,-2.5,-2,-1.5,-1,-0.5],
[15.5,-2.1,-1.6,-1.1,-0.6,-0.1,0.3],[16,-1.5,-1,-0.5,0,0.4,0.8],[16.5,-0.8,-0.3,0.2,0.7,1.3],[17,-0.9,-0.4,0.1,0.6,1.2],[17.5,-2.65,-2,-1.5,-1,-0.5,0,0.6],[18,-2.6,-2.1,-1.6,-1.1,-0.5],[18.5,-2.6,-2.1,-1.6,-1.1,-0.7],[19,-2.5,-2,-1.5,-1,-0.5,0,0.35],
[19.1,3.6,3.1,2.6,2.2],[19.4,-2.65,-2,-1.5,-1,-0.5,0.1,2.4,3,3.5],[19.85,-1.8,-1.2,-0.5,1.8,2.3,2.8,3.3,3.8,4.15],[20.2,-1.1,-0.5,0,0.5,1,1.5,2,2.5,3,3.5,3.9],[20.6,-0.9,-0.3,0.2,0.7,1.2,1.7,2.2,2.8],[21,-0.2,0.3,0.8,1.3,1.8,2.2],[21.4,0.5,1,1.5,2,2.6],[22.05,0.4,0.9,1.4,1.9,2.3,2.65],
[22.4,-0.5,0,0.5,1,1.5,1.7],[22.8,-1.5,-1,-0.5,0,0.2],[23.2,-1.9,-1.4,-0.9,-0.4,-0.2],[23.75,-1.9,-1.4,-0.9,-0.4,0,0.3],[24,-1.3,-0.8,-0.4,0.1]
];
const xia1RedFill: Row[] = [
[0.25,-1.9,-1.4,-0.9,-0.5],[0.6,-2.4,-1.9,-1.4,-0.9,-0.4],[1,-3,-2.5,-2,-1.5,-1,-0.5,-0.1],[1.4,-2.5,-2,-1.5,-1,-0.5,0,0.4],[1.8,-1.8,-1.3,-0.8,-0.3,0.2,0.8],[2.25,-1.1,-0.6,-0.1,0.4,0.9,1.4],[2.75,-0.7,-0.2,0.3,0.8,1.3,1.7],[3.3,-1.3,-0.8,-0.3,0.2,0.7,1.2],
[3.9,-1.5,-1,-0.5,0,0.5,1],[4.45,-1.5,-1,-0.5,0,0.5,1],[4.8,-2.2,-1.7,-1.2,-0.7,-0.2,0.4],[5.2,-3.3,-2.8,-2.3,-1.8,-1.3,-0.6],[5.6,-4,-3.5,-3,-2.5,-2,-1.5,-1],[6.05,-4.1,-3.6,-3.1,-2.6,-2.1,-1.6,-1],[6.35,-4.1,-3.6,-3.1,-2.6,-2.1,-1.5,-0.9],[6.75,-3.9,-3.4,-2.9,-2.4,-1.8,-1.2,-0.7,-0.1],
[7.2,-3,-2.5,-2,-1.5,-1,-0.4,0.1,0.6,1.2],[7.6,-2.2,-1.7,-1.2,-0.7,-0.2,0.3,0.8,1.3,1.8,2.3],[8,-0.8,-0.3,0.2,0.7,1.2,1.7,2.2,2.8],[8.4,-0.3,0.2,0.7,1.2,1.7,2.2,2.7],[8.8,-1.4,-0.9,-0.4,0.1,0.6,1.1,1.7],[9.2,-2.5,-1.9,-1.4,-0.9,-0.4,0.1,0.6],[9.7,-2.5,-2,-1.5,-1,-0.5,0,0.5],[10.25,-1.9,-1.4,-0.9,-0.4,0.1,0.6,1.1],
[10.75,-1.2,-0.7,-0.2,0.3,0.8],[11.3,-2.2,-1.7,-1.2,-0.7,-0.2,0.3],[11.9,-3.4,-2.9,-2.4,-1.9,-1.4,-0.9,-0.4,0],[12.45,-3.5,-3,-2.5,-2,-1.5,-1,-0.5],[13,-3.3,-2.8,-2.3,-1.8,-1.3,-0.8,-0.3],[13.65,-2.9,-2.4,-1.9,-1.4,-0.9,-0.4],[14.15,-2.5,-2,-1.5,-1,-0.6],[14.65,-2.6,-2.1,-1.6,-1.1,-0.7],
[15.25,-2.2,-1.7,-1.2,-0.7,-0.2],[15.75,-1.8,-1.3,-0.8,-0.3,0.2,0.6],[16.25,-1.1,-0.6,-0.1,0.4,0.9],[16.75,-0.8,-0.3,0.2,0.7,1.2],[17.25,-1.6,-1.1,-0.6,-0.1,0.4,0.9],[17.75,-2.4,-1.9,-1.4,-0.9,-0.4,0.2],[18.25,-2.5,-2,-1.5,-1,-0.6],[18.75,-2.4,-1.9,-1.4,-0.9,-0.4,0.1],
[19.2,-2.3,-1.8,-1.3,-0.8,-0.3,0.2,2.9,3.4],[19.6,-2.2,-1.6,-1.1,-0.6,0,2.1,2.7,3.2,3.7,4],[20,-1.4,-0.8,-0.2,0.3,0.9,1.5,2,2.6,3.1,3.6,4],[20.4,-1,-0.4,0.1,0.6,1.1,1.6,2.1,2.7,3.2],[20.8,-0.5,0,0.5,1,1.5,2,2.5],[21.2,0.1,0.6,1.1,1.6,2.1,2.4],[21.7,0.5,1,1.5,2,2.5],[22.25,-0.1,0.4,0.9,1.4,1.9,2.3],
[22.6,-1,-0.5,0,0.5,1,1.3],[23,-1.7,-1.2,-0.7,-0.2,0.1],[23.45,-1.9,-1.4,-0.9,-0.4,-0.1],[23.9,-1.6,-1.1,-0.6,-0.1,0.2]
];

const xia5Blue: Row[] = [
[5.8,-8.1],[5.85,-8.9],[5.75,-9.35],[7.7,-8.5],[7.9,-4.3,-4.7,-5,-5.2,-5.4,-5.6,-5.7,-5.9,-6.1],[8.2,-5.4,-5.8,-6.2,-6.4,-6.6,-6.8,-7],[8.6,-7.2,-7.4,-7.6,-7.8,-8,-8.2,-8.4],[8.9,-8,-8.3,-8.6,-8.8,-8.9,-9.1,-9.2,-9.5],[9.3,-8.5,-8.8,-9,-9.1,-9.3,-9.4,-9.7,-10],
[9.7,-8.8,-9.1,-9.4,-9.7,-10],[10,-7.3,-7.8,-8.1,-8.4,-8.7,-9,-9.4,-9.8],[10.1,-5.5,-6,-6.4,-6.8,-7],[10.3,-3.3,-3.8,-4.2,-4.7,-5.1,-5.5,-6],[10.5,-2.5,-3,-3.5,-4,-4.5],[11,-2,-2.8,-3.2,-4,-4.3,-4.6,-5.15,-5.65],[7.5,0.85],[7.6,0],[8.3,-2.2]
];
const xia5Red: Row[] = [
[0.1,-3,-2.5,-2,-1.5],[0.4,-4.9,-4.3,-3.8,-3.3,-2.8,-2.3,-1.8,-1.2,-0.6,0,0.8],[0.7,-4.8,-4.2,-3.6,-3,-2.4,-1.8,-1.2,-0.6,0,0.5],[1,-3.6,-3,-2.4,-1.8,-1.2,-0.6,0,0.6,1.1,1.5],[1.4,-2.8,-2.2,-1.6,-1,-0.4,0.2,0.8,1.4,2,2.4],[1.6,-2.3,-1.3,-0.3,0.7,1.7,2.7,3.2,3.65],
[1.9,-1.7,-1.1,-0.5,0.1,0.7,1.3,1.9,2.5,3],[2.2,-1.4,-0.8,-0.2,0.4,1,1.6,2.2,2.8],[2.6,-0.9,-0.3,0.3,0.9,1.5,2.1,2.7],[3,-1.2,-0.6,0,0.6,1.2,1.8,2.5],[3.4,-2.2,-1.6,-1,-0.4,0.2,0.8,1.4,2.2],[3.8,-3.4,-2.8,-2.2,-1.6,-1,-0.4,0.2,0.7,1.2],[4.2,-4.3,-3.7,-3.1,-2.5,-1.9,-1.3,-0.7,-0.2,0.3],
[4.6,-4.5,-3.9,-3.3,-2.7,-2.1,-1.5,-0.9,-0.5,-0.1],[5,-3.6,-3,-2.4,-1.8,-1.2,-0.6,0,0.5,1],[5.4,-3,-2.4,-1.8,-1.2,-0.6,0,0.6,1.2,1.7],[5.55,-2,-1.4,-0.8,-0.2,0.4,1,1.6,2.2,2.6,3],[6.1,-1.3,-0.8,-0.2,0.4,1,1.6,2.3],[6.5,-4.7,-4,-3.2,-2.6,-2,-1.4,-0.8,-0.2,0.4,1.3],
[6.8,-4.4,-3.8,-3.2,-2.6,-2,-1.4,-0.7],[7.05,-3.4,-2.8,-2.2,-1.6,-1,-0.4],[7.35,-3,-2.4,-1.8,-1.2,-0.7,-0.2],[7.6,-1,-0.4,0.2,0.8,1.4,1.7],[7.9,-0.3,0.3,0.9,1.5,2.1,2.9,4.1],[8.3,0.3,0.8,1.4,2,2.6,3.2,3.8,4.4],[8.7,0.6,1.2,1.8,2.4,3,3.6,4.1,4.5],
[9.2,0.7,1.3,1.9,2.5,3.1,3.7,4.3,4.8,5.2],[9.6,1,1.6,2.2,2.8,3.4,4,4.6,5.2,5.8],[9.95,-1.8,0.6,1.2,1.8,2.4,3,3.6,4.2,4.8,5.4,6,6.4],[10.4,-0.3,0.3,0.9,1.5,2.1,2.7,3.3,3.9,4.5,5.1,5.9],[10.8,-1.2,-0.6,0,0.6,1.2,1.8,2.4,3,3.6,4.2,4.9],[11.2,-1.8,-1.2,-0.6,0,0.6,1.2,1.8,2.4,3.3],
[11.7,-2.65,-2,-1.4,-0.8,-0.2,0.4,1,1.6,2.4],[12.1,-2.2,-1.6,-1,-0.4,0.2,0.8,1.4,2.3],[12.5,-1.6,-1,-0.4,0.2,0.8,1.3,1.7],[12.9,-1.2,-0.6,0,0.6,1.1,1.5],[13.2,-1.1,-0.5,0.1,0.7,1.3,1.9],[13.6,-1.1,-0.5,0.1,0.7,1.3,1.9,2.5],[14,-1.5,-0.9,-0.3,0.3,0.9,1.5,2.1,2.5],
[14.15,-6.85,-6,-3.2,-2.5],[14.45,-5.6,-5,-4.4,-3.8,-3.2,-2.6,-2,-1.4,-0.8,-0.2,0.4,0.9],[14.8,-5.4,-4.8,-4.2,-3.6,-3,-2.4,-1.8,-1.2,-0.6,0],[15.1,-4,-3.4,-2.8,-2.2,-1.6,-1,-0.4,0.2,0.8],[15.5,-2.5,-1.9,-1.3,-0.7,-0.1,0.5,0.9],[15.95,-5.8,-4.9,-2.2,-1.6,-1,-0.4,0.2,0.7,1.1],
[16.2,-1,-0.5,0.1,0.6,0.9],[16.6,-3.1,-2.6,-2,-1.4,-0.8,-0.3,0.1],[17,-6.2,-5.6,-5,-4.4,-3.8,-3.2,-2.7,-2.3],[17.4,-5.6,-5,-4.4,-3.8,-3.2,-2.7,-2.4],[17.75,-4.7,-4.1,-3.5,-2.9,-2.3,-1.7,-1.1,1.1],[18.2,-4.2,-3.6,-3,-2.4,-1.8,-1.2,-0.6,-0.1,0.4],
[18.6,-1.5,-0.9,-0.3,0.3,0.9,1.4],[18.95,-1.1,-0.5,0.1,0.7,1.3,1.9,2.3],[19.4,-0.6,0,0.6,1.2,1.8,2.3,2.7],[19.8,-0.8,-0.2,0.4,1,1.6,2.2,2.8,3.2,3.7],[20.1,-1.8,-1.2,-0.6,0,0.6,1.2,1.8,2.5],[20.35,-4,-3.1,-2.5,-1.9,-1.3,-0.7,-0.1,0.5,1.2],
[20.7,-2.8,-2.2,-1.6,-1,-0.4,0.2],[21.1,-2.5,-1.9,-1.3,-0.7,-0.1],[21.5,-1.7,-1.1,-0.5,0.1,0.6,1],[21.95,-1.6,-1,-0.4,0.2,0.8,1.4,2,2.5,2.95],[22.45,-2.6,-1.9,-1.3,-0.7,-0.1,0.5,1.1,1.7,2.5],[22.8,-1.5,-0.9,-0.3,0.3,0.8,1],
[23.2,-1.4,-0.8,-0.2,0.4,1,1.4,1.8],[23.75,-0.9,-0.3,0.3,0.9,1.5,2.1,2.65],[24,-1,-0.4,0.2,0.8,1.3,1.8]
];
const xia5RedFill: Row[] = [
[0.25,-3.7,-3.2,-2.7,-2.1,-1.5,-1],[0.55,-4.6,-4,-3.5,-2.9,-2.3,-1.7,-1.1,-0.5,0.2],[0.85,-4.1,-3.5,-2.9,-2.3,-1.7,-1.1,-0.5,0.1,0.7],[1.2,-3.2,-2.6,-2,-1.4,-0.8,-0.2,0.4,1,1.8],[1.75,-2,-1.5,-0.9,-0.2,0.4,1,1.6,2.2,2.8],[2.05,-1.6,-1,-0.4,0.2,0.8,1.4,2,2.6],[2.4,-1.2,-0.6,0,0.6,1.2,1.8,2.4],
[2.8,-1,-0.4,0.2,0.8,1.4,2,2.5],[3.2,-1.7,-1.1,-0.5,0.1,0.7,1.3,1.9],[3.6,-2.8,-2.2,-1.6,-1,-0.4,0.2,0.8,1.4],[4,-3.9,-3.3,-2.7,-2.1,-1.5,-0.9,-0.3,0.2],[4.4,-4.4,-3.8,-3.2,-2.6,-2,-1.4,-0.8,-0.3],[4.8,-4,-3.4,-2.8,-2.2,-1.6,-1,-0.4,0.2],[5.2,-3.3,-2.7,-2.1,-1.5,-0.9,-0.3,0.3,0.9,1.4],
[5.8,-1.6,-1,-0.4,0.2,0.8,1.4,2,2.5],[6.3,-3.8,-2.9,-2.3,-1.7,-1.1,-0.5,0.1,0.7,1.5],[6.65,-4.5,-3.9,-3.3,-2.7,-2.1,-1.5,-0.9],[6.95,-3.8,-3.2,-2.6,-2,-1.4,-0.8],[7.2,-3.1,-2.5,-1.9,-1.3,-0.7],[7.5,-1.6,-1,-0.4,0.2,0.8,1.3],[7.75,-0.6,0,0.6,1.2,1.8,2.4],[8.1,0,0.6,1.1,1.7,2.3,2.9,3.5],[8.5,0.5,1.1,1.7,2.3,2.9,3.5,4],
[8.95,0.7,1.3,1.9,2.5,3.1,3.7,4.3,4.7],[9.4,0.9,1.5,2.1,2.7,3.3,3.9,4.5,5],[9.8,0.8,1.4,2,2.6,3.2,3.8,4.4,5,5.6,6.1],[10.2,0.2,0.8,1.4,2,2.6,3.2,3.8,4.4,5,5.6,6.2],[10.6,-0.8,-0.2,0.4,1,1.6,2.2,2.8,3.4,4,4.6,5.4],[11,-1.5,-0.9,-0.3,0.3,0.9,1.5,2.1,2.7,3.3,4],[11.45,-2.2,-1.6,-1,-0.4,0.2,0.8,1.4,2.1,2.8],
[11.9,-2.4,-1.8,-1.2,-0.6,0,0.6,1.2,1.9],[12.3,-1.9,-1.3,-0.7,-0.1,0.5,1.1,1.7],[12.7,-1.4,-0.8,-0.2,0.4,1,1.5],[13.05,-1.1,-0.5,0.1,0.7,1.3,1.7],[13.4,-1.1,-0.5,0.1,0.7,1.3,1.9,2.3],[13.8,-1.3,-0.7,-0.1,0.5,1.1,1.7,2.3],[14.25,-3.9,-3.3,-2.7,-2.1,-1.5,-0.9,-0.3,0.3,0.9,1.6],[14.6,-5.2,-4.6,-4,-3.4,-2.8,-2.2,-1.6,-1,-0.4,0.3],
[14.95,-4.7,-4.1,-3.5,-2.9,-2.3,-1.7,-1.1,-0.5,0.3],[15.3,-3.2,-2.6,-2,-1.4,-0.8,-0.2,0.4,0.8],[15.7,-2.3,-1.7,-1.1,-0.5,0.1,0.7],[16.05,-1.6,-1,-0.4,0.2,0.8],[16.4,-2.1,-1.5,-0.9,-0.3,0.3,0.7],[16.8,-5,-4.4,-3.8,-3.2,-2.6,-2,-1.4,-0.8],[17.2,-5.9,-5.3,-4.7,-4.1,-3.5,-2.9,-2.5],[17.6,-5.2,-4.6,-4,-3.4,-2.8,-2.2,-1.8],
[18,-4.4,-3.8,-3.2,-2.6,-2,-1.4,-0.8,-0.2],[18.4,-2.8,-2.2,-1.6,-1,-0.4,0.2,0.8],[18.8,-1.2,-0.6,0,0.6,1.2,1.7],[19.15,-0.9,-0.3,0.3,0.9,1.5,2.1],[19.6,-0.7,-0.1,0.5,1.1,1.7,2.3,2.9,3.3],[19.95,-1.3,-0.7,-0.1,0.5,1.1,1.7,2.3,2.9],[20.2,-2.6,-2,-1.4,-0.8,-0.2,0.4,1,1.6,2.1],[20.5,-3.3,-2.7,-2.1,-1.5,-0.9,-0.3,0.3,0.8],
[20.9,-2.6,-2,-1.4,-0.8,-0.2,0.1],[21.3,-2.2,-1.6,-1,-0.4,0.1],[21.7,-1.6,-1,-0.4,0.2,0.8,1.4,1.9],[22.2,-2,-1.4,-0.8,-0.2,0.4,1,1.6,2.2,2.8],[22.6,-1.9,-1.3,-0.7,-0.1,0.5,1.1,1.7],[23,-1.5,-0.9,-0.3,0.3,0.9,1.4],[23.45,-1.2,-0.6,0,0.6,1.2,1.8,2.2],[23.9,-1,-0.4,0.2,0.8,1.4,1.9]
];

const blueRows = [brchBlue, gua1Blue, lha1Blue, wuh1Blue, xia1Blue, xia5Blue];
const redRows = [
  [...brchRed, ...brchRedCore],
  [...gua1Red, ...gua1RedFill],
  [...lha1Red, ...lha1RedFill],
  [...wuh1Red, ...wuh1RedFill],
  [...xia1Red, ...xia1RedFill],
  [...xia5Red, ...xia5RedFill],
];

const expand = (rows: Row[]) => rows.flatMap(([t, ...ys]) => ys.map((y) => ({ x: t, y })));

const FONT = "'Liberation Sans', Arial, sans-serif";
const INK = "#262626";
const GRID = "#dedede";
const BLUE = "#0000ff";
const RED = "#ff0000";
const MARK_R = 24;
const BLUE_W = 3;
const RED_W = 4;

const cols = [
  { left: 0, width: 1150, axis: 284, right: 77 },
  { left: 1150, width: 1040, axis: 170, right: 83 },
  { left: 2190, width: 1003, axis: 166, right: 49 },
];
const rows = [
  { top: 100, height: 1130, xAxis: 155 },
  { top: 1305, height: 1237, xAxis: 262 },
];

const boxPlugin = {
  id: "boxPlugin",
  beforeDatasetsDraw(chart: any) {
    const { ctx, chartArea: a, scales } = chart;
    ctx.save();
    ctx.strokeStyle = "#333333";
    ctx.lineWidth = 3;
    ctx.strokeRect(a.left, a.top, a.right - a.left, a.bottom - a.top);
    ctx.beginPath();
    const len = 11;
    scales.x.ticks.forEach((t: any) => {
      const p = scales.x.getPixelForValue(t.value);
      ctx.moveTo(p, a.bottom);
      ctx.lineTo(p, a.bottom - len);
      ctx.moveTo(p, a.top);
      ctx.lineTo(p, a.top + len);
    });
    scales.y.ticks.forEach((t: any) => {
      const p = scales.y.getPixelForValue(t.value);
      ctx.moveTo(a.left, p);
      ctx.lineTo(a.left + len, p);
      ctx.moveTo(a.right, p);
      ctx.lineTo(a.right - len, p);
    });
    ctx.stroke();
    ctx.restore();
  },
};

function markerImage(style: string, color: string) {
  const c = document.createElement("canvas");
  c.width = 60;
  c.height = 60;
  const g = c.getContext("2d")!;
  g.strokeStyle = color;
  g.fillStyle = "transparent";
  g.lineWidth = BLUE_W;
  drawPoint(g, { pointStyle: style as any, radius: MARK_R, rotation: 0, borderWidth: BLUE_W } as any, 30, 30);
  return c;
}

function panelConfig(i: number): any {
  const col = cols[i % 3];
  const row = rows[Math.floor(i / 3)];
  const isLeft = i % 3 === 0;
  const isBottom = i >= 3;
  return {
    type: "scatter",
    data: {
      datasets: [
        {
          label: seriesNames[0],
          data: expand(blueRows[i]),
          pointStyle: "cross",
          pointRadius: MARK_R,
          pointBorderWidth: BLUE_W,
          pointBorderColor: BLUE,
          pointBackgroundColor: "transparent",
          clip: false,
        },
        {
          label: seriesNames[1],
          data: expand(redRows[i]),
          pointStyle: "star",
          pointRadius: MARK_R,
          pointBorderWidth: RED_W,
          pointBorderColor: RED,
          pointBackgroundColor: "transparent",
          clip: false,
        },
      ],
    },
    options: {
      animation: false,
      responsive: false,
      devicePixelRatio: 1,
      events: [],
      layout: { padding: { left: 0, top: 0, right: col.right, bottom: 0 } },
      plugins: {
        legend: { display: false },
        tooltip: { enabled: false },
        title: {
          display: true,
          text: stations[i],
          fullSize: false,
          color: "#000000",
          font: { family: FONT, size: 81, weight: "bold", lineHeight: 1 },
          padding: { top: 29, bottom: 9 },
        },
      },
      scales: {
        x: {
          type: "linear",
          min: 0,
          max: 24,
          afterFit: (s: any) => {
            s.height = row.xAxis;
          },
          ticks: {
            stepSize: xTickStep,
            includeBounds: false,
            maxRotation: 0,
            autoSkip: false,
            padding: 50,
            color: INK,
            font: { family: FONT, size: 72, lineHeight: 1 },
          },
          grid: { color: GRID, lineWidth: 4, drawTicks: false },
          border: { display: false },
          title: {
            display: isBottom,
            text: "universal time (h)",
            color: INK,
            font: { family: FONT, size: 82, lineHeight: 1 },
            padding: { top: 0, bottom: 29 },
          },
        },
        y: {
          type: "linear",
          min: -10,
          max: 10,
          afterFit: (s: any) => {
            s.width = col.axis;
          },
          ticks: {
            stepSize: yTickStep,
            autoSkip: false,
            padding: 30,
            labelOffset: 6,
            color: INK,
            font: { family: FONT, size: 72, lineHeight: 1 },
          },
          grid: { color: GRID, lineWidth: 4, drawTicks: false },
          border: { display: false },
          title: {
            display: isLeft,
            text: "U (m)",
            color: INK,
            font: { family: FONT, size: 82, lineHeight: 1 },
            padding: { top: 36, bottom: 0 },
          },
        },
      },
    },
    plugins: [boxPlugin],
  };
}

function legendConfig(): any {
  const images = [markerImage("cross", BLUE), markerImage("star", RED)];
  return {
    type: "scatter",
    data: {
      datasets: seriesNames.map((name) => ({ label: name, data: [] })),
    },
    options: {
      animation: false,
      responsive: false,
      devicePixelRatio: 1,
      events: [],
      scales: { x: { display: false }, y: { display: false } },
      plugins: {
        tooltip: { enabled: false },
        title: { display: false },
        legend: {
          display: true,
          position: "top",
          align: "start",
          labels: {
            usePointStyle: true,
            pointStyleWidth: 210,
            padding: 45,
            color: "#000000",
            font: { family: FONT, size: 67 },
            generateLabels: () =>
              seriesNames.map((name, idx) => ({
                text: name,
                pointStyle: images[idx],
                fontColor: "#000000",
                strokeStyle: "transparent",
                fillStyle: "transparent",
                lineWidth: 0,
                datasetIndex: idx,
              })),
          },
        },
      },
    },
  };
}

export default function App() {
  const panelRefs = useRef<(HTMLCanvasElement | null)[]>([]);
  const legendRef = useRef<HTMLCanvasElement | null>(null);

  useEffect(() => {
    const charts: Chart[] = stations.map((_, i) => new Chart(panelRefs.current[i]!, panelConfig(i)));
    charts.push(new Chart(legendRef.current!, legendConfig()));
    return () => charts.forEach((c) => c.destroy());
  }, []);

  return (
    <div style={{ position: "absolute", left: 0, top: 0, width: 3193, height: 2542, background: "#fff", overflow: "hidden" }}>
      <canvas
        ref={legendRef}
        width={1200}
        height={400}
        style={{ position: "absolute", left: 1162, top: -20, width: 1200, height: 400 }}
      />
      {stations.map((name, i) => {
        const col = cols[i % 3];
        const row = rows[Math.floor(i / 3)];
        return (
          <canvas
            key={name}
            ref={(el) => {
              panelRefs.current[i] = el;
            }}
            width={col.width}
            height={row.height}
            style={{ position: "absolute", left: col.left, top: row.top, width: col.width, height: row.height }}
          />
        );
      })}
    </div>
  );
}
